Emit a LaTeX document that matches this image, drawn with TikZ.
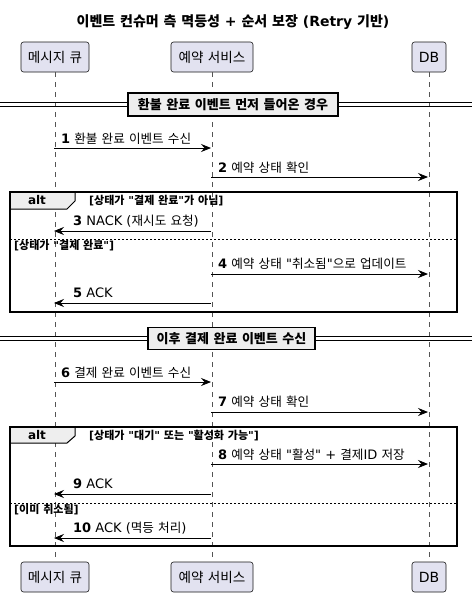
\documentclass[tikz,border=0pt]{standalone}
\usepackage{fontspec}
\setmainfont{DejaVu Sans}[Ligatures=TeXOff]
\newfontfamily\krsmall{Noto Sans CJK KR}[Scale=0.97]
\newfontfamily\krbig{Noto Sans CJK KR}
\newcommand\krsw{\krsmall}
\XeTeXinterchartokenstate=1
\newXeTeXintercharclass\krclass
\count255="AC00
\loop
  \XeTeXcharclass\count255=\krclass
  \ifnum\count255<"D7A3 \advance\count255 by 1
\repeat
\XeTeXinterchartoks 0 \krclass = {\krsw}
\XeTeXinterchartoks 4095 \krclass = {\krsw}
\XeTeXinterchartoks \krclass 0 = {\rmfamily}
\XeTeXinterchartoks \krclass 4095 = {\rmfamily}
\usetikzlibrary{arrows.meta}
\definecolor{partfill}{HTML}{E2E2F0}
\definecolor{partdraw}{HTML}{181818}
\definecolor{grpfill}{HTML}{EEEEEE}
\definecolor{lifecol}{HTML}{555555}
\tikzset{
  part/.style={draw=partdraw, fill=partfill, rounded corners=2.5pt, line width=0.6pt, minimum height=30pt, inner sep=0pt, font=\fontsize{14}{16}\selectfont\let\krsw\krsmall},
  lifeline/.style={draw=lifecol, line width=0.5pt, dash pattern=on 5pt off 5pt},
  msg/.style={line width=0.8pt, -{Stealth[length=10pt,width=8pt,inset=3.5pt]}},
  lbl/.style={anchor=west, inner sep=0pt, font=\fontsize{13}{15}\selectfont},
  guard/.style={anchor=west, inner sep=0pt, font=\fontsize{11}{13}\selectfont\bfseries\let\krsw\krbig},
  frame/.style={line width=1.5pt},
  tabshape/.style={fill=grpfill, draw, line width=1pt},
  divbox/.style={draw, line width=1.5pt, fill=grpfill, inner sep=0pt, font=\fontsize{13}{15}\selectfont\bfseries\let\krsw\krbig},
  sep/.style={line width=0.6pt, dash pattern=on 2pt off 2pt},
}
\begin{document}
\begin{tikzpicture}[x=1pt,y=-1pt]
\useasboundingbox[fill=white] (0,0) rectangle (472,597);
% title
\node[font=\fontsize{14}{16}\selectfont\bfseries\let\krsw\krbig] (title) at (233,22) {이벤트 컨슈머 측 멱등성 + 순서 보장 (Retry 기반)};
% participants
\node[part, minimum width=68pt] (mqT) at (55,57) {메시지 큐};
\node[part, minimum width=82pt] (svcT) at (212,57) {예약 서비스};
\node[part, minimum width=34pt] (dbT) at (429,57) {DB};
\node[part, minimum width=68pt] (mqB) at (55,577) {메시지 큐};
\node[part, minimum width=82pt] (svcB) at (212,577) {예약 서비스};
\node[part, minimum width=34pt] (dbB) at (429,577) {DB};
\draw[lifeline] (mqT.south) -- (mqB.north);
\draw[lifeline] (svcT.south) -- (svcB.north);
\draw[lifeline] (dbT.south) -- (dbB.north);

% divider 1
\draw[line width=0.7pt] (0,102.5) -- (472,102.5);
\draw[line width=0.7pt] (0,106) -- (472,106);
\node[divbox, minimum width=210pt, minimum height=23pt] (div1) at (233,104.5) {환불 완료 이벤트 먼저 들어온 경우};

% messages block 1
\coordinate (m1a) at (54,148); \coordinate (m1b) at (211,148);
\draw[msg] (m1a) -- (m1b);
\node[lbl] (l1) at (61,138.5) {\textbf{1} 환불 완료 이벤트 수신};
\coordinate (m2a) at (211,177); \coordinate (m2b) at (428,177);
\draw[msg] (m2a) -- (m2b);
\node[lbl] (l2) at (218,167.5) {\textbf{2} 예약 상태 확인};

% alt 1
\draw[tabshape] (10,192) -- (75,192) -- (75,201) -- (67,209) -- (10,209) -- cycle;
\draw[frame] (10,192) rectangle (457,312);
\node[font=\fontsize{12}{14}\selectfont\bfseries] (alt1) at (37,200.5) {alt};
\node[guard] (g1) at (89,200.5) {[상태가 "결제 완료"가 아님]};
\coordinate (m3a) at (211,231); \coordinate (m3b) at (54,231);
\draw[msg] (m3a) -- (m3b);
\node[lbl] (l3) at (73,221.5) {\textbf{3} NACK (재시도 요청)};
\draw[sep] (10,239) -- (457,239);
\node[guard] (g2) at (14,246) {[상태가 "결제 완료"]};
\coordinate (m4a) at (211,274); \coordinate (m4b) at (428,274);
\draw[msg] (m4a) -- (m4b);
\node[lbl] (l4) at (218,263.5) {\textbf{4} 예약 상태 "취소됨"으로 업데이트};
\coordinate (m5a) at (211,303); \coordinate (m5b) at (54,303);
\draw[msg] (m5a) -- (m5b);
\node[lbl] (l5) at (73,293) {\textbf{5} ACK};

% divider 2
\draw[line width=0.7pt] (0,336.5) -- (472,336.5);
\draw[line width=0.7pt] (0,340) -- (472,340);
\node[divbox, minimum width=167pt, minimum height=22pt] (div2) at (231.5,338.5) {이후 결제 완료 이벤트 수신};

\coordinate (m6a) at (54,382); \coordinate (m6b) at (211,382);
\draw[msg] (m6a) -- (m6b);
\node[lbl] (l6) at (61,372.5) {\textbf{6} 결제 완료 이벤트 수신};
\coordinate (m7a) at (211,412); \coordinate (m7b) at (428,412);
\draw[msg] (m7a) -- (m7b);
\node[lbl] (l7) at (218,402) {\textbf{7} 예약 상태 확인};

% alt 2
\draw[tabshape] (10,427) -- (75,427) -- (75,436) -- (67,443) -- (10,443) -- cycle;
\draw[frame] (10,427) rectangle (457,546);
\node[font=\fontsize{12}{14}\selectfont\bfseries] (alt2) at (37,435.5) {alt};
\node[guard] (g3) at (89,436) {[상태가 "대기" 또는 "활성화 가능"]};
\coordinate (m8a) at (211,464); \coordinate (m8b) at (428,464);
\draw[msg] (m8a) -- (m8b);
\node[lbl] (l8) at (218,454.5) {\textbf{8} 예약 상태 "활성" + 결제ID 저장};
\coordinate (m9a) at (211,494); \coordinate (m9b) at (54,494);
\draw[msg] (m9a) -- (m9b);
\node[lbl] (l9) at (73,484) {\textbf{9} ACK};
\draw[sep] (10,503) -- (457,503);
\node[guard] (g4) at (14,509.5) {[이미 취소됨]};
\coordinate (m10a) at (211,538); \coordinate (m10b) at (54,538);
\draw[msg] (m10a) -- (m10b);
\node[lbl] (l10) at (73,528) {\textbf{10} ACK (멱등 처리)};
\end{tikzpicture}
\end{document}
